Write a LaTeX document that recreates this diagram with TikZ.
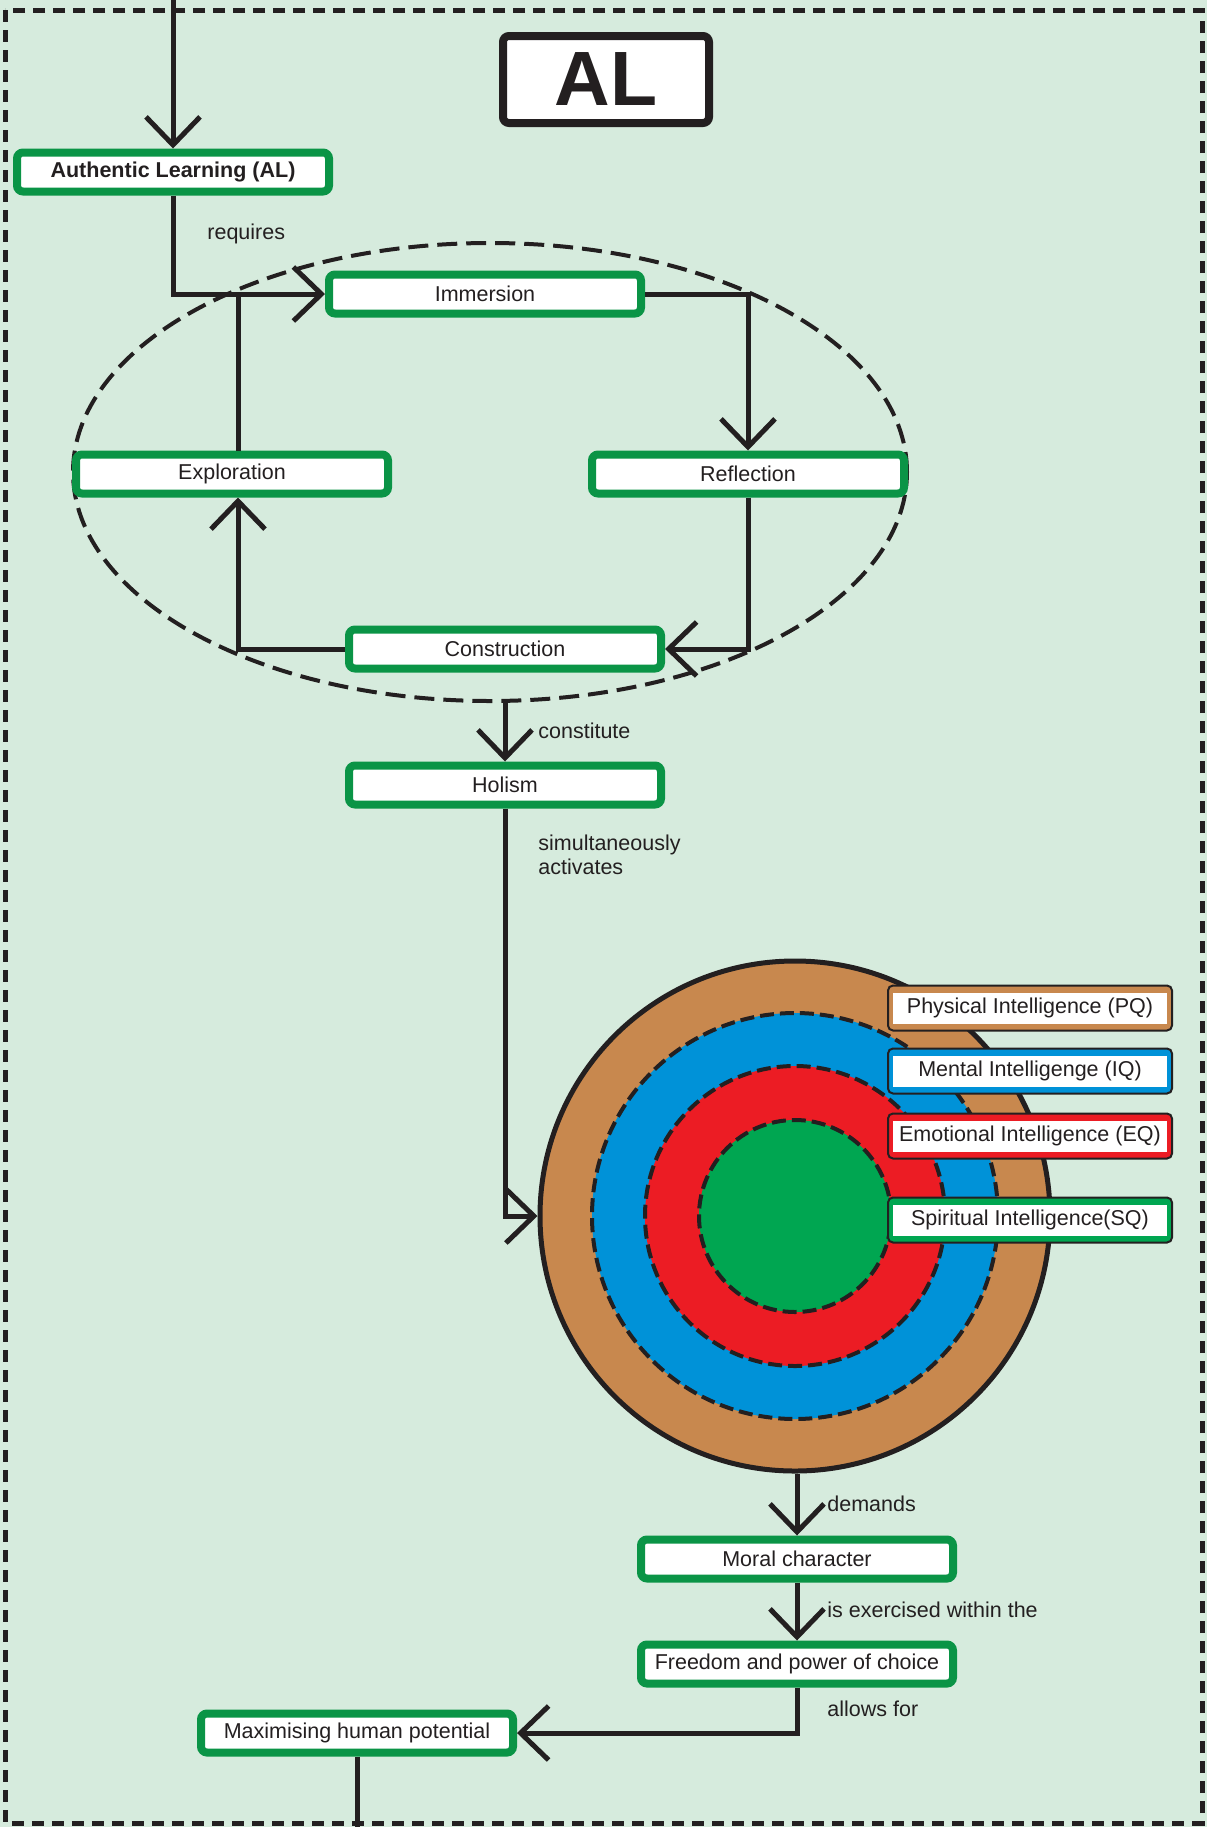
\documentclass[tikz,border=0pt]{standalone}
\usepackage{fontspec}
\setmainfont{Liberation Sans}
\usetikzlibrary{arrows.meta,shapes.geometric}

\definecolor{bgcol}{RGB}{214,235,221}
\definecolor{boxgreen}{RGB}{10,148,70}
\definecolor{pqcol}{RGB}{200,136,78}
\definecolor{iqcol}{RGB}{0,146,216}
\definecolor{eqcol}{RGB}{236,28,36}
\definecolor{sqcol}{RGB}{0,166,81}
\definecolor{ink}{RGB}{35,31,32}

\tikzset{
  txt/.style={font=\fontsize{10.75}{12}\selectfont, text=ink},
  stage/.style={txt, draw=boxgreen, line width=4pt, fill=white, rounded corners=3pt,
    minimum width=156pt, minimum height=19.5pt, inner sep=0pt},
  lbl/.style={txt, inner sep=0pt, anchor=west, align=left},
  conn/.style={draw=ink, line width=2.5pt},
  arr/.style={-{Straight Barb[length=14pt,width=27pt]}},
  ring/.style={circle, draw=ink, line width=2pt, dash pattern=on 7pt off 3pt, inner sep=0pt},
  qframe/.style={rounded corners=2.5pt, draw=ink, line width=1pt,
    minimum width=142pt, minimum height=22.5pt, inner sep=0pt},
  qtext/.style={txt, fill=white, minimum width=137pt, minimum height=15.5pt, inner sep=0pt},
}

\begin{document}
\begin{tikzpicture}[x=0.5pt,y=-0.5pt]
  % canvas
  \fill[bgcol] (0,0) rectangle (1207,1827);
  \useasboundingbox (0,0) rectangle (1207,1827);
  \draw[ink, line width=2.5pt, dash pattern=on 6pt off 4pt] (5,10) rectangle (1202,1823);

  % title
  \node[draw=ink, line width=4pt, fill=white, rounded corners=3pt, minimum width=103pt,
        minimum height=43.5pt, inner sep=0pt, text=ink,
        font=\fontsize{38.5}{40}\selectfont\bfseries] (title) at (606,79.5) {AL};

  % learning cycle
  \node[ellipse, draw=ink, line width=2pt, dash pattern=on 10pt off 4.5pt,
        minimum width=417pt, minimum height=229pt, inner sep=0pt] (cyc) at (490,472) {};

  \coordinate (entry) at (173,0);
  \coordinate (exit) at (357,1827);

  \node[stage, font=\fontsize{10.75}{12}\selectfont\bfseries] (al) at (173,172) {Authentic Learning (AL)};
  \node[stage] (imm) at (485,294) {Immersion};
  \node[stage] (exp) at (232,474) {Exploration};
  \node[stage] (ref) at (748,474) {Reflection};
  \node[stage] (con) at (505,649) {Construction};
  \node[stage] (hol) at (505,785) {Holism};

  % intelligences
  \node[circle, fill=pqcol, draw=ink, line width=2.5pt, minimum size=255pt, inner sep=0pt] (pqc) at (795,1216) {};
  \node[ring, fill=iqcol, minimum size=203pt] (iqc) at (795,1216) {};
  \node[ring, fill=eqcol, minimum size=150pt] (eqc) at (795,1216) {};
  \node[ring, fill=sqcol, minimum size=96pt] (sqc) at (795,1216) {};

  \node[qframe, fill=pqcol] (pqf) at (1030,1008) {};
  \node[qtext] (pq) at (pqf) {Physical Intelligence (PQ)};
  \node[qframe, fill=iqcol] (iqf) at (1030,1071) {};
  \node[qtext] (iq) at (iqf) {Mental Intelligenge (IQ)};
  \node[qframe, fill=eqcol] (eqf) at (1030,1136) {};
  \node[qtext] (eq) at (eqf) {Emotional Intelligence (EQ)};
  \node[qframe, fill=sqcol] (sqf) at (1030,1220) {};
  \node[qtext] (sq) at (sqf) {Spiritual Intelligence(SQ)};

  \node[stage] (moral) at (797,1559) {Moral character};
  \node[stage] (free) at (797,1664) {Freedom and power of choice};
  \node[stage] (maxh) at (357,1733) {Maximising human potential};

  % connectors
  \draw[conn, arr] (entry) -- (al.north);
  \draw[conn, arr] (al.south) -- (al.south |- imm.west) -- (imm.west);
  \draw[conn] ([xshift=3pt]exp.north) -- ([xshift=3pt]exp.north |- imm.west);
  \draw[conn, arr] (imm.east) -- (ref.north |- imm.east) -- (ref.north);
  \draw[conn, arr] (ref.south) -- (ref.south |- con.east) -- (con.east);
  \draw[conn, arr] (con.west) -- ([xshift=3pt]exp.south |- con.west) -- ([xshift=3pt]exp.south);
  \draw[conn, arr] (hol.north |- cyc.south) -- (hol.north);
  \draw[conn, arr] (hol.south) -- (hol.south |- pqc.west) -- (pqc.west);
  \draw[conn, arr] (moral.north |- pqc.south) -- (moral.north);
  \draw[conn, arr] (moral.south) -- (free.north);
  \draw[conn, arr] (free.south) -- (free.south |- maxh.east) -- (maxh.east);
  \draw[conn] (maxh.south) -- (exit);

  % connector labels
  \node[lbl] (l1) at (207,234) {requires};
  \node[lbl] (l2) at (538,731) {constitute};
  \node[lbl] (l3) at (538,855) {simultaneously\\activates};
  \node[lbl] (l4) at (827,1504) {demands};
  \node[lbl] (l5) at (827,1610) {is exercised within the};
  \node[lbl] (l6) at (827,1709) {allows for};
\end{tikzpicture}
\end{document}
